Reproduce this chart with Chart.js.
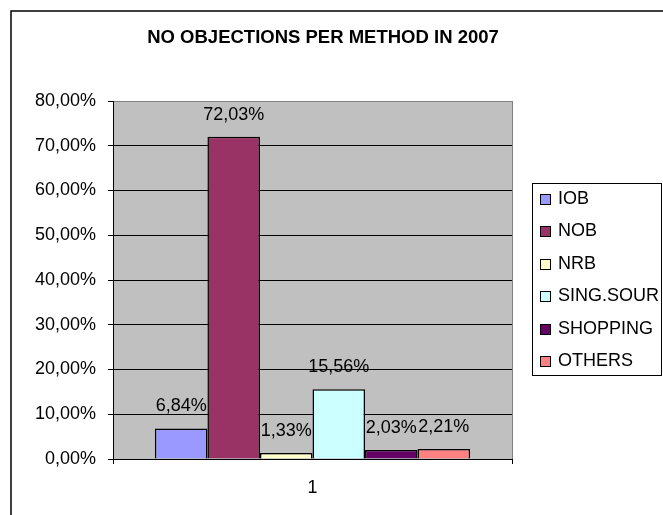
<!DOCTYPE html>
<html>
<head>
<meta charset="utf-8">
<title>No objections per method in 2007</title>
<script src="https://cdn.jsdelivr.net/npm/chart.js@4"></script>
<style>
  body { margin: 0; background: #fff; }
</style>
</head>
<body>
<canvas id="methodChart" width="663" height="515"></canvas>
<script>
// dados do gráfico
const categories = ['1'];
const seriesNames = ['IOB', 'NOB', 'NRB', 'SING.SOUR', 'SHOPPING', 'OTHERS'];
const seriesValues = [6.84, 72.03, 1.33, 15.56, 2.03, 2.21];
const seriesColors = ['#9999FF', '#993366', '#FFFFCC', '#CCFFFF', '#660066', '#FF8080'];
const yMax = 80;
const yStep = 10;
const chartTitle = 'NO OBJECTIONS PER METHOD IN 2007';

const fontFamily = '"Liberation Sans", Arial, sans-serif';
Chart.defaults.font.family = fontFamily;
Chart.defaults.font.size = 18;
Chart.defaults.color = '#000';

function fmtPct(v) {
    return v.toFixed(2).replace('.', ',') + '%';
}

// fundo, moldura, título e legenda
const excelLook = {
    id: 'excelLook',
    beforeDraw(chart) {
        const ctx = chart.ctx;
        const a = chart.chartArea;
        ctx.save();
        ctx.fillStyle = '#fff';
        ctx.fillRect(0, 0, chart.width, chart.height);
        ctx.strokeStyle = '#000';
        ctx.lineWidth = 1.5;
        ctx.strokeRect(11, 11, 800, 700);
        ctx.fillStyle = '#C0C0C0';
        ctx.fillRect(a.left, a.top, a.right - a.left, a.bottom - a.top);
        ctx.restore();
    },
    afterDatasetsDraw(chart) {
        const ctx = chart.ctx;
        ctx.save();
        ctx.font = '18px ' + fontFamily;
        ctx.fillStyle = '#000';
        ctx.textAlign = 'center';
        ctx.textBaseline = 'middle';
        chart.data.datasets.forEach((ds, i) => {
            const bar = chart.getDatasetMeta(i).data[0];
            ctx.fillText(fmtPct(ds.data[0]), bar.x, bar.y - 22);
        });
        ctx.restore();
    },
    afterDraw(chart) {
        const ctx = chart.ctx;
        const a = chart.chartArea;
        ctx.save();
        // borda direita da área do gráfico
        ctx.strokeStyle = '#808080';
        ctx.lineWidth = 1;
        ctx.beginPath();
        ctx.moveTo(a.right + 0.5, a.top);
        ctx.lineTo(a.right + 0.5, a.bottom);
        ctx.stroke();

        // título
        ctx.fillStyle = '#000';
        ctx.font = 'bold 18.5px ' + fontFamily;
        ctx.textAlign = 'center';
        ctx.textBaseline = 'middle';
        ctx.fillText(chartTitle, 323, 38);

        // legenda
        ctx.strokeStyle = '#000';
        ctx.strokeRect(532.5, 183.5, 129, 192);
        ctx.font = '18px ' + fontFamily;
        ctx.textAlign = 'left';
        chart.data.datasets.forEach((ds, i) => {
            const y = 199 + i * 32.4;
            ctx.fillStyle = ds.backgroundColor;
            ctx.fillRect(540, Math.round(y) - 5, 10, 10);
            ctx.strokeRect(540.5, Math.round(y) - 4.5, 10, 10);
            ctx.fillStyle = '#000';
            ctx.fillText(ds.label, 558, y);
        });
        ctx.restore();
    }
};

const datasets = seriesNames.map((name, i) => ({
    label: name,
    data: [seriesValues[i]],
    backgroundColor: seriesColors[i],
    borderColor: '#000',
    borderWidth: 1.5
}));

const chart = new Chart(document.getElementById('methodChart'), {
    type: 'bar',
    data: { labels: categories, datasets: datasets },
    options: {
        responsive: false,
        animation: false,
        categoryPercentage: 0.79,
        barPercentage: 1,
        layout: { padding: { top: 101, right: 151, bottom: 0, left: 0 } },
        plugins: {
            legend: { display: false },
            title: { display: false },
            tooltip: { enabled: false }
        },
        scales: {
            x: {
                afterFit: s => { s.height = 56; },
                grid: { display: true, drawOnChartArea: false, drawTicks: true, tickLength: 5, color: '#000' },
                border: { display: true, color: '#000', width: 1 },
                ticks: { padding: 13, color: '#000' }
            },
            y: {
                min: 0,
                max: yMax,
                afterFit: s => { s.width = 113; },
                ticks: { stepSize: yStep, padding: 12, color: '#000', callback: v => fmtPct(v) },
                grid: {
                    color: c => (c.tick && c.tick.value === yMax ? '#808080' : '#000'),
                    tickColor: '#000',
                    tickLength: 5,
                    lineWidth: 1
                },
                border: { display: true, color: '#000', width: 1 }
            }
        }
    },
    plugins: [excelLook]
});
</script>
</body>
</html>
